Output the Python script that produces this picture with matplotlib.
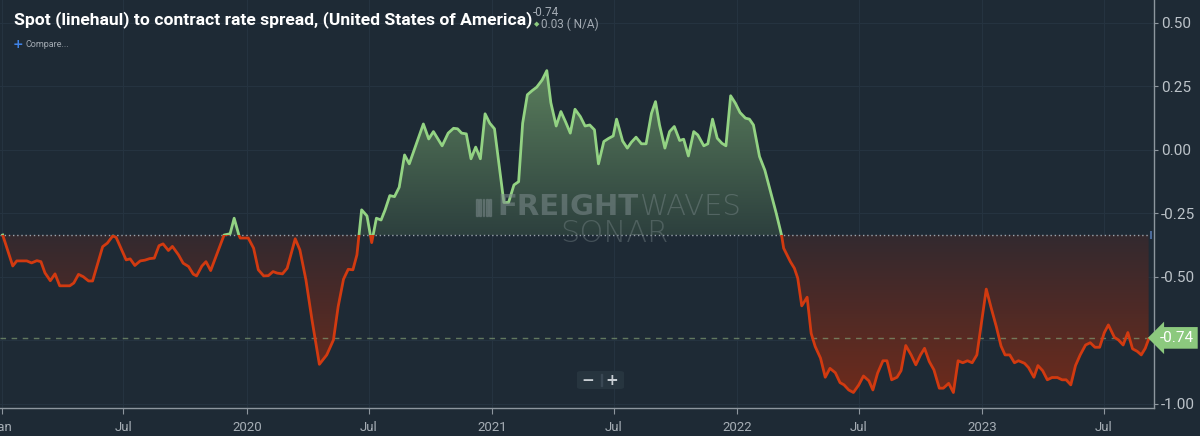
"""
Spot (linehaul) to contract rate spread - SONAR style chart
"""

import numpy as np
import pandas as pd
import matplotlib
matplotlib.use("Agg")
import matplotlib.pyplot as plt
import matplotlib.dates as mdates
from matplotlib.colors import LinearSegmentedColormap
from matplotlib.patches import Polygon, Rectangle, FancyBboxPatch

# weekly readings of the spread, one list per year
dates_2019 = ["2019-01-02", "2019-01-17", "2019-01-23", "2019-02-07", "2019-02-14", "2019-02-22",
              "2019-02-28", "2019-03-06", "2019-03-14", "2019-03-21", "2019-03-28", "2019-04-12",
              "2019-04-18", "2019-04-25", "2019-05-02", "2019-05-10", "2019-05-16", "2019-05-31",
              "2019-06-07", "2019-06-15", "2019-06-20", "2019-07-05", "2019-07-11", "2019-07-18",
              "2019-07-26", "2019-08-02", "2019-08-09", "2019-08-16", "2019-08-23", "2019-08-29",
              "2019-09-06", "2019-09-12", "2019-09-21", "2019-09-28", "2019-10-06", "2019-10-13",
              "2019-10-18", "2019-10-26", "2019-11-01", "2019-11-08", "2019-11-28", "2019-12-07",
              "2019-12-13", "2019-12-20", "2019-12-22"]
values_2019 = [-0.335, -0.457, -0.437, -0.437, -0.445, -0.436,
               -0.440, -0.484, -0.515, -0.488, -0.535, -0.535,
               -0.524, -0.490, -0.499, -0.516, -0.516, -0.381,
               -0.367, -0.339, -0.344, -0.433, -0.429, -0.455,
               -0.437, -0.434, -0.428, -0.426, -0.377, -0.370,
               -0.396, -0.380, -0.413, -0.446, -0.459, -0.489,
               -0.496, -0.457, -0.440, -0.475, -0.335, -0.330,
               -0.269, -0.335, -0.347]

dates_2020 = ["2020-01-03", "2020-01-11", "2020-01-18", "2020-01-26", "2020-02-02", "2020-02-09",
              "2020-02-15", "2020-02-23", "2020-03-01", "2020-03-13", "2020-03-20", "2020-03-29",
              "2020-04-07", "2020-04-18", "2020-04-29", "2020-05-09", "2020-05-16", "2020-05-24",
              "2020-05-31", "2020-06-07", "2020-06-13", "2020-06-20", "2020-06-28", "2020-07-05",
              "2020-07-12", "2020-07-19", "2020-07-25", "2020-08-01", "2020-08-08", "2020-08-15",
              "2020-08-23", "2020-08-30", "2020-09-20", "2020-09-28", "2020-10-05", "2020-10-18",
              "2020-10-27", "2020-11-04", "2020-11-10", "2020-11-16", "2020-11-23", "2020-11-30",
              "2020-12-07", "2020-12-14", "2020-12-21", "2020-12-28"]
values_2020 = [-0.347, -0.387, -0.472, -0.496, -0.495, -0.479,
               -0.485, -0.488, -0.466, -0.350, -0.394, -0.512,
               -0.669, -0.844, -0.807, -0.748, -0.617, -0.509,
               -0.470, -0.472, -0.413, -0.236, -0.260, -0.365,
               -0.269, -0.276, -0.236, -0.180, -0.184, -0.147,
               -0.020, -0.055, 0.102, 0.043, 0.072, 0.016,
               0.066, 0.085, 0.083, 0.066, 0.063, -0.035,
               0.011, -0.035, 0.142, 0.105]

dates_2021 = ["2021-01-04", "2021-01-18", "2021-01-25", "2021-02-02", "2021-02-09", "2021-02-15",
              "2021-02-22", "2021-03-01", "2021-03-08", "2021-03-16", "2021-03-23", "2021-03-29",
              "2021-04-06", "2021-04-13", "2021-04-20", "2021-04-27", "2021-05-04", "2021-05-12",
              "2021-05-19", "2021-05-26", "2021-06-02", "2021-06-08", "2021-06-16", "2021-06-23",
              "2021-06-30", "2021-07-05", "2021-07-14", "2021-07-21", "2021-07-27", "2021-08-03",
              "2021-08-11", "2021-08-18", "2021-08-26", "2021-09-01", "2021-09-07", "2021-09-15",
              "2021-09-22", "2021-09-29", "2021-10-07", "2021-10-13", "2021-10-20", "2021-10-28",
              "2021-11-03", "2021-11-12", "2021-11-18", "2021-11-25", "2021-12-02", "2021-12-09",
              "2021-12-15", "2021-12-22", "2021-12-29"]
values_2021 = [0.083, -0.207, -0.207, -0.138, -0.125, 0.105,
               0.217, 0.233, 0.247, 0.275, 0.312, 0.186,
               0.094, 0.151, 0.110, 0.066, 0.160, 0.131,
               0.094, 0.098, 0.079, -0.055, 0.033, 0.045,
               0.055, 0.121, 0.035, 0.007, 0.030, 0.050,
               0.024, 0.024, 0.144, 0.190, 0.098, 0.007,
               0.072, 0.092, 0.037, 0.042, -0.024, 0.072,
               0.059, 0.016, 0.024, 0.121, 0.046, 0.026,
               0.016, 0.213, 0.184]

dates_2022 = ["2022-01-05", "2022-01-13", "2022-01-19", "2022-01-25", "2022-02-03", "2022-02-11",
              "2022-02-20", "2022-02-28", "2022-03-08", "2022-03-11", "2022-03-21", "2022-03-27",
              "2022-04-01", "2022-04-07", "2022-04-15", "2022-04-21", "2022-04-27", "2022-05-05",
              "2022-05-12", "2022-05-19", "2022-05-27", "2022-06-03", "2022-06-09", "2022-06-16",
              "2022-06-23", "2022-07-01", "2022-07-08", "2022-07-16", "2022-07-22", "2022-07-29",
              "2022-08-06", "2022-08-12", "2022-08-19", "2022-08-27", "2022-09-02", "2022-09-09",
              "2022-09-17", "2022-09-24", "2022-10-01", "2022-10-07", "2022-10-14", "2022-10-21",
              "2022-10-29", "2022-11-04", "2022-11-12", "2022-11-19", "2022-11-26", "2022-12-03",
              "2022-12-10", "2022-12-17", "2022-12-24"]
values_2022 = [0.147, 0.125, 0.121, 0.098, -0.026, -0.080,
               -0.170, -0.250, -0.337, -0.387, -0.440, -0.466,
               -0.505, -0.614, -0.580, -0.722, -0.774, -0.820,
               -0.895, -0.860, -0.877, -0.916, -0.925, -0.945,
               -0.955, -0.925, -0.890, -0.909, -0.945, -0.879,
               -0.830, -0.830, -0.905, -0.895, -0.869, -0.770,
               -0.807, -0.846, -0.807, -0.781, -0.833, -0.866,
               -0.938, -0.938, -0.919, -0.955, -0.830, -0.838,
               -0.830, -0.838, -0.807]

dates_2023 = ["2023-01-07", "2023-01-14", "2023-01-22", "2023-01-29", "2023-02-04", "2023-02-11",
              "2023-02-18", "2023-02-24", "2023-03-05", "2023-03-11", "2023-03-19", "2023-03-25",
              "2023-04-01", "2023-04-08", "2023-04-15", "2023-04-23", "2023-04-30", "2023-05-06",
              "2023-05-13", "2023-05-20", "2023-05-27", "2023-06-04", "2023-06-11", "2023-06-18",
              "2023-06-25", "2023-07-02", "2023-07-08", "2023-07-17", "2023-07-23", "2023-07-30",
              "2023-08-06", "2023-08-13", "2023-08-20", "2023-08-26", "2023-09-01", "2023-09-06"]
values_2023 = [-0.548, -0.619, -0.696, -0.772, -0.807, -0.807,
               -0.838, -0.830, -0.840, -0.857, -0.895, -0.849,
               -0.869, -0.905, -0.896, -0.896, -0.905, -0.905,
               -0.925, -0.849, -0.807, -0.768, -0.759, -0.777,
               -0.777, -0.719, -0.689, -0.738, -0.748, -0.768,
               -0.719, -0.783, -0.793, -0.807, -0.781, -0.745]

TITLE = "Spot (linehaul) to contract rate spread, (United States of America)"
LAST_VALUE = -0.74
CHANGE = 0.03
yticks = [-1.00, -0.75, -0.50, -0.25, 0.00, 0.25, 0.50]
ytick_labels = ["-1.00", "", "-0.50", "-0.25", "0.00", "0.25", "0.50"]

BG = "#1e2a35"
GRID = "#253340"
GREEN = "#93d383"
RED = "#d23a10"
WM = "#7d8b8d"

dates = pd.to_datetime(dates_2019 + dates_2020 + dates_2021 + dates_2022 + dates_2023)
values = np.array(values_2019 + values_2020 + values_2021 + values_2022 + values_2023)
x = mdates.date2num(dates)
base = values[0]

fig = plt.figure(figsize=(12, 4.36), dpi=100, facecolor=BG)
ax = fig.add_axes([0, 1 - 408 / 436, 1154 / 1200, 408 / 436])
ax.set_facecolor(BG)

x_left = mdates.date2num(pd.Timestamp("2019-01-01")) - 3
x_right = x_left + 1720
y_bot, y_top = -1.016, 0.59
ax.set_xlim(x_left, x_right)
ax.set_ylim(y_bot, y_top)

# gradient fills clipped to the area between line and first value
verts = np.column_stack([np.r_[x[0], x, x[-1]], np.r_[base, values, base]])
area = Polygon(verts, closed=True, facecolor="none", edgecolor="none", transform=ax.transData)
ax.add_patch(area)

green_cmap = LinearSegmentedColormap.from_list("g", ["#2d403e", "#5a7e5c"])
red_cmap = LinearSegmentedColormap.from_list("r", ["#33292f", "#6d2b1c"])
grad = np.linspace(0, 1, 256).reshape(-1, 1)
im_g = ax.imshow(grad, extent=[x[0], x[-1], base, values.max()], origin="lower",
                 aspect="auto", cmap=green_cmap, zorder=1, interpolation="bilinear")
im_g.set_clip_path(area)
im_r = ax.imshow(grad, extent=[x[0], x[-1], values.min(), base], origin="upper",
                 aspect="auto", cmap=red_cmap, zorder=1, interpolation="bilinear")
im_r.set_clip_path(area)

# line, green above the first value and red below
for col, y0, y1 in [(GREEN, base, y_top), (RED, y_bot, base)]:
    ln, = ax.plot(x, values, color=col, lw=2, zorder=3, solid_joinstyle="round")
    ln.set_clip_path(Rectangle((x_left, y0), x_right - x_left, y1 - y0, transform=ax.transData))

ax.axhline(base, color="#9aa4ad", lw=1, dashes=(1, 2), zorder=2.5)
ax.axhline(LAST_VALUE, color="#7f9a72", lw=1, dashes=(4, 4), alpha=0.7, zorder=2.5)
ax.plot([x_right - 5], [base], marker="|", ms=6, mew=1.5, color="#4c6a99", zorder=4, clip_on=False)

# axes styling
for s in ["top", "left"]:
    ax.spines[s].set_visible(False)
for s in ["bottom", "right"]:
    ax.spines[s].set_color("#8d969e")
    ax.spines[s].set_linewidth(1)

ax.yaxis.tick_right()
ax.set_yticks(yticks)
ax.set_yticklabels(ytick_labels)
ax.tick_params(axis="y", colors="#8d969e", labelcolor="#bcc3c9", labelsize=11, length=3, pad=2)
for t in ax.get_yticklabels():
    t.set_fontfamily("Roboto")

ax.xaxis.set_major_locator(mdates.MonthLocator(bymonth=[1, 7]))
ax.xaxis.set_major_formatter(mdates.DateFormatter("%b"))
ax.tick_params(axis="x", colors="#8d969e", labelcolor="#a6aeb5", labelsize=9.5, length=4, pad=5)
fig.canvas.draw()
xt = ax.get_xticks()
labels = []
for v in xt:
    d = mdates.num2date(v)
    labels.append(str(d.year) if d.month == 1 and d.year > 2019 else d.strftime("%b"))
ax.set_xticks(xt)
ax.set_xticklabels(labels, fontfamily="Roboto")
ax.set_xlim(x_left, x_right)
ax.grid(True, color=GRID, lw=0.8, zorder=0)
ax.set_axisbelow(True)

# last value tag
ax.text(1.005, LAST_VALUE, f"{LAST_VALUE:.2f}", transform=ax.get_yaxis_transform(),
        color="white", fontsize=11, fontfamily="Roboto", va="center", ha="left", zorder=6,
        bbox=dict(boxstyle="larrow,pad=0.25", fc="#8cc97e", ec="none"), clip_on=False)

# watermark
fig.text(638 / 1200, 1 - 207 / 436, "FREIGHT", color=WM, alpha=0.55, fontsize=21,
         fontweight="heavy", fontfamily="DejaVu Sans", ha="right", va="center")
fig.text(640 / 1200, 1 - 207 / 436, "WAVES", color=WM, alpha=0.45, fontsize=21,
         fontweight="light", fontfamily="DejaVu Sans", ha="left", va="center")
fig.text(614 / 1200, 1 - 233 / 436, "SONAR", color=WM, alpha=0.4, fontsize=22,
         fontweight="light", fontfamily="DejaVu Sans", ha="center", va="center")
for i in range(5):
    fig.add_artist(Rectangle(((476 + i * 3.3) / 1200, 1 - 216 / 436), 1.6 / 1200, 17 / 436,
                             transform=fig.transFigure, color=WM, alpha=0.45))

# header texts
fig.text(14 / 1200, 1 - 20 / 436, TITLE, color="white", fontsize=12.6, fontweight="bold",
         fontfamily="Roboto", va="center", ha="left")
fig.text(533 / 1200, 1 - 12 / 436, f"{LAST_VALUE:.2f}", color="#a3abb3", fontsize=8.5,
         fontfamily="Roboto", va="center")
fig.text(534 / 1200, 1 - 24 / 436, "\u25c6", color="#8cc97e", fontsize=5, va="center")
fig.text(541 / 1200, 1 - 24 / 436, f"{CHANGE:.2f} ( N/A)", color="#a3abb3", fontsize=8.5,
         fontfamily="Roboto", va="center")
fig.text(13 / 1200, 1 - 44 / 436, "+", color="#3f82e6", fontsize=9, fontweight="bold", va="center")
fig.text(25 / 1200, 1 - 44 / 436, "Compare...", color="#a3abb3", fontsize=6.5,
         fontfamily="Roboto", va="center")

# zoom buttons
fig.add_artist(FancyBboxPatch((577 / 1200, 1 - 389 / 436), 47 / 1200, 18 / 436,
                              boxstyle="round,pad=0,rounding_size=0.004", transform=fig.transFigure,
                              fc="#27353f", ec="none"))
fig.text(588 / 1200, 1 - 380 / 436, "\u2212", color="#c8ced3", fontsize=11, fontweight="bold",
         ha="center", va="center")
fig.text(612 / 1200, 1 - 380 / 436, "+", color="#c8ced3", fontsize=11, fontweight="bold",
         ha="center", va="center")
fig.add_artist(Rectangle((601 / 1200, 1 - 386 / 436), 1 / 1200, 12 / 436,
                         transform=fig.transFigure, color="#3a4854"))

fig.savefig("out.png", dpi=100, facecolor=BG)
